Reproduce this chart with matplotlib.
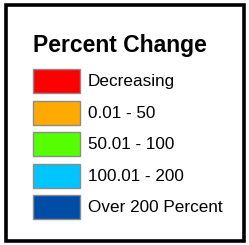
import matplotlib.pyplot as plt
from matplotlib.patches import Rectangle

title = "Percent Change"
labels = ["Decreasing", "0.01 - 50", "50.01 - 100", "100.01 - 200", "Over 200 Percent"]
colors = ["#ff0000", "#ffaa00", "#55ff00", "#00c5ff", "#004da8"]

plt.rcParams['font.family'] = ['Liberation Sans', 'DejaVu Sans']

fig = plt.figure(figsize=(2.49, 2.45), dpi=100)
ax = fig.add_axes([0, 0, 1, 1])
ax.set_xlim(0, 249)
ax.set_ylim(245, 0)
ax.axis("off")

# outer frame
ax.add_patch(Rectangle((5.5, 5), 238.5, 236, fill=False, edgecolor="black", linewidth=2.6))

ax.text(33, 52, title, fontsize=16.5, fontweight="bold", va="baseline", ha="left")

top0 = 69
step = 31.5
for i in range(len(labels)):
    y = top0 + i * step
    ax.add_patch(Rectangle((33, y), 47, 24, facecolor=colors[i],
                           edgecolor="#8c8c8c", linewidth=1.0))
    ax.text(88, y + 12.5, labels[i], fontsize=12.3, va="center", ha="left")

fig.savefig("out.png", dpi=100)
